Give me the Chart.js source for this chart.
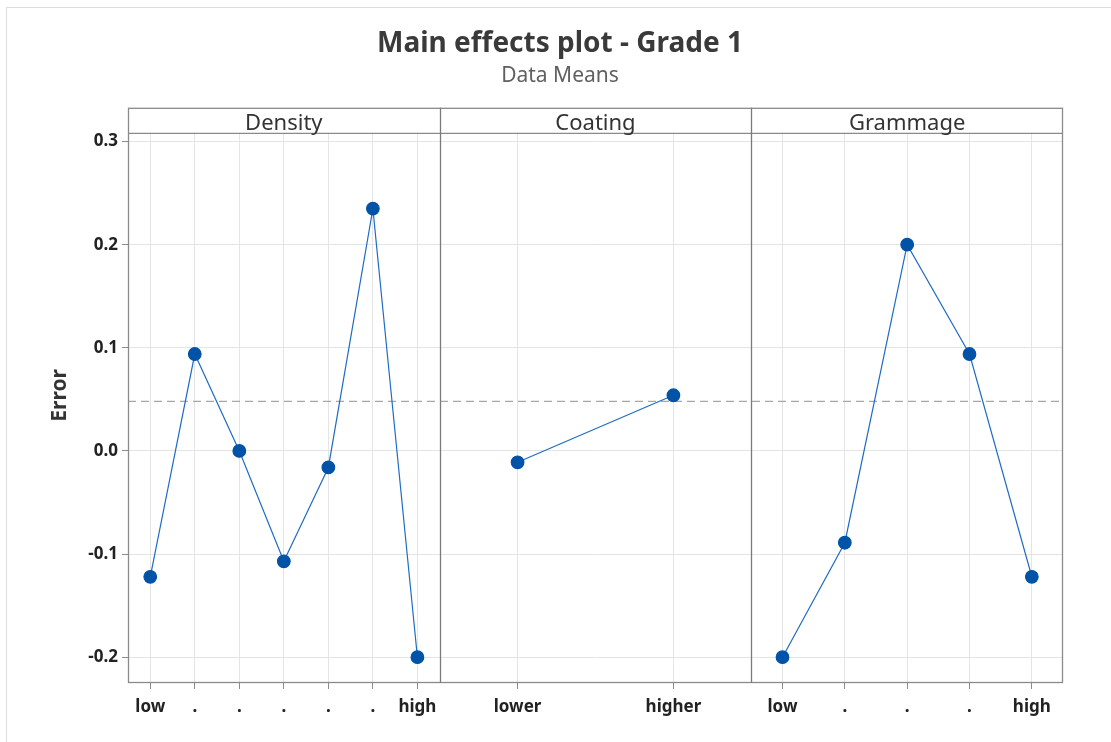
<!DOCTYPE html>
<html>
<head>
<meta charset="utf-8">
<script src="https://cdn.jsdelivr.net/npm/chart.js@4/dist/chart.umd.min.js"></script>
<style>
  html, body { margin: 0; padding: 0; background: #ffffff; }
  #wrap { position: relative; width: 1111px; height: 742px; overflow: hidden; background: #fff; }
  #frame { position: absolute; left: 6px; top: 7px; width: 1200px; height: 800px; border: 1px solid #dddddd; box-sizing: border-box; }
  canvas { position: absolute; left: 0; top: 0; }
</style>
</head>
<body>
<div id="wrap">
  <div id="frame"></div>
  <canvas id="c" width="1111" height="742"></canvas>
</div>
<script>
// ---- data ----
const chartTitle = 'Main effects plot - Grade 1';
const chartSubtitle = 'Data Means';
const yAxisTitle = 'Error';
const panelNames = ['Density', 'Coating', 'Grammage'];
const densityLevels = ['low', '.', '.', '.', '.', '.', 'high'];
const coatingLevels = ['lower', 'higher'];
const grammageLevels = ['low', '.', '.', '.', 'high'];
const densityMeans = [-0.122, 0.094, 0.000, -0.107, -0.016, 0.235, -0.200];
const coatingMeans = [-0.011, 0.054];
const grammageMeans = [-0.200, -0.089, 0.200, 0.094, -0.122];
const overallMean = 0.048;
const yTickValues = [-0.2, -0.1, 0.0, 0.1, 0.2, 0.3];
const yMin = -0.225;
const yMax = 0.3085;

// ---- styles ----
const FONT = "'Noto Sans', 'Open Sans', 'DejaVu Sans', sans-serif";
const lineColor = '#1f6cc4';
const pointColor = '#0053a6';
const gridColor = '#e4e4e4';
const frameColor = '#8a8a8a';
const textColor = '#222222';

function xAxis(labels) {
  return {
    type: 'category',
    labels: labels,
    position: 'bottom',
    stack: 'panels',
    stackWeight: 1,
    offset: true,
    grid: { display: true, offset: false, color: gridColor, lineWidth: 1, drawTicks: true, tickLength: 6, tickColor: frameColor },
    border: { display: false },
    ticks: { autoSkip: false, maxRotation: 0, minRotation: 0, padding: 8, color: textColor, font: { family: FONT, size: 17, weight: 'bold' } },
    afterFit: (s) => { s.height = 59; }
  };
}

function ds(data, axis) {
  return {
    data: data,
    xAxisID: axis,
    yAxisID: 'y',
    borderColor: lineColor,
    borderWidth: 1.2,
    backgroundColor: pointColor,
    pointBackgroundColor: pointColor,
    pointBorderColor: pointColor,
    pointRadius: 6.3,
    pointHoverRadius: 6.3,
    tension: 0,
    fill: false
  };
}

const STRIP_H = 25;

const panelPlugin = {
  id: 'panelPlugin',
  beforeDatasetsDraw(chart) {
    const ctx = chart.ctx, a = chart.chartArea, y = chart.scales.y;
    const py = y.getPixelForValue(overallMean);
    ctx.save();
    ctx.strokeStyle = '#a6a6a6';
    ctx.lineWidth = 1.2;
    ctx.setLineDash([8, 5]);
    ctx.beginPath();
    ctx.moveTo(a.left, py);
    ctx.lineTo(a.right, py);
    ctx.stroke();
    ctx.restore();
  },
  afterDraw(chart) {
    const ctx = chart.ctx, a = chart.chartArea;
    const axes = [chart.scales.xD, chart.scales.xC, chart.scales.xG];
    ctx.save();
    ctx.strokeStyle = frameColor;
    ctx.lineWidth = 1.3;
    ctx.strokeRect(a.left + 0.5, a.top - STRIP_H + 0.5, a.right - a.left - 1, a.bottom - a.top + STRIP_H - 1);
    ctx.beginPath();
    ctx.moveTo(a.left, a.top + 0.5);
    ctx.lineTo(a.right, a.top + 0.5);
    ctx.stroke();
    ctx.strokeStyle = '#7a7a7a';
    for (let i = 1; i < axes.length; i++) {
      const x = Math.round(axes[i].left) + 0.5;
      ctx.beginPath();
      ctx.moveTo(x, a.top - STRIP_H);
      ctx.lineTo(x, a.bottom);
      ctx.stroke();
    }
    // panel names
    ctx.fillStyle = '#333333';
    ctx.font = "22px " + FONT;
    ctx.textAlign = 'center';
    ctx.textBaseline = 'alphabetic';
    axes.forEach((s, i) => {
      ctx.fillText(panelNames[i], (s.left + s.right) / 2, a.top - 3);
    });
    // y axis title, centred over strip + plot
    ctx.save();
    ctx.translate(60, (a.top - STRIP_H + a.bottom) / 2);
    ctx.rotate(-Math.PI / 2);
    ctx.fillStyle = '#333333';
    ctx.font = "bold 21px " + FONT;
    ctx.textAlign = 'center';
    ctx.textBaseline = 'middle';
    ctx.fillText(yAxisTitle, 0, 0);
    ctx.restore();
    ctx.restore();
  }
};

new Chart(document.getElementById('c'), {
  type: 'line',
  data: {
    datasets: [ds(densityMeans, 'xD'), ds(coatingMeans, 'xC'), ds(grammageMeans, 'xG')]
  },
  plugins: [panelPlugin],
  options: {
    responsive: false,
    animation: false,
    devicePixelRatio: 1,
    layout: { padding: { left: 57, right: 48, top: 0, bottom: 0 } },
    plugins: {
      legend: { display: false },
      tooltip: { enabled: false },
      title: {
        display: true, text: chartTitle, color: '#3a3a3a',
        font: { family: FONT, size: 28, weight: 'bold', lineHeight: 1.2 },
        padding: { top: 27, bottom: 0 }
      },
      subtitle: {
        display: true, text: chartSubtitle, color: '#606060',
        font: { family: FONT, size: 21, weight: 'normal', lineHeight: 1.2 },
        padding: { top: 3, bottom: 44 }
      }
    },
    scales: {
      xD: xAxis(densityLevels),
      xC: xAxis(coatingLevels),
      xG: xAxis(grammageLevels),
      y: {
        type: 'linear',
        position: 'left',
        min: yMin,
        max: yMax,
        afterBuildTicks: (s) => { s.ticks = yTickValues.map(v => ({ value: v })); },
        afterFit: (s) => { s.width = 71; },
        grid: { color: gridColor, lineWidth: 1, drawTicks: true, tickLength: 6, tickColor: frameColor },
        border: { display: false },
        ticks: {
          padding: 4, color: textColor,
          font: { family: FONT, size: 17, weight: 'bold' },
          callback: (v) => Number(v).toFixed(1)
        },
        title: { display: false }
      }
    }
  }
});
</script>
</body>
</html>
